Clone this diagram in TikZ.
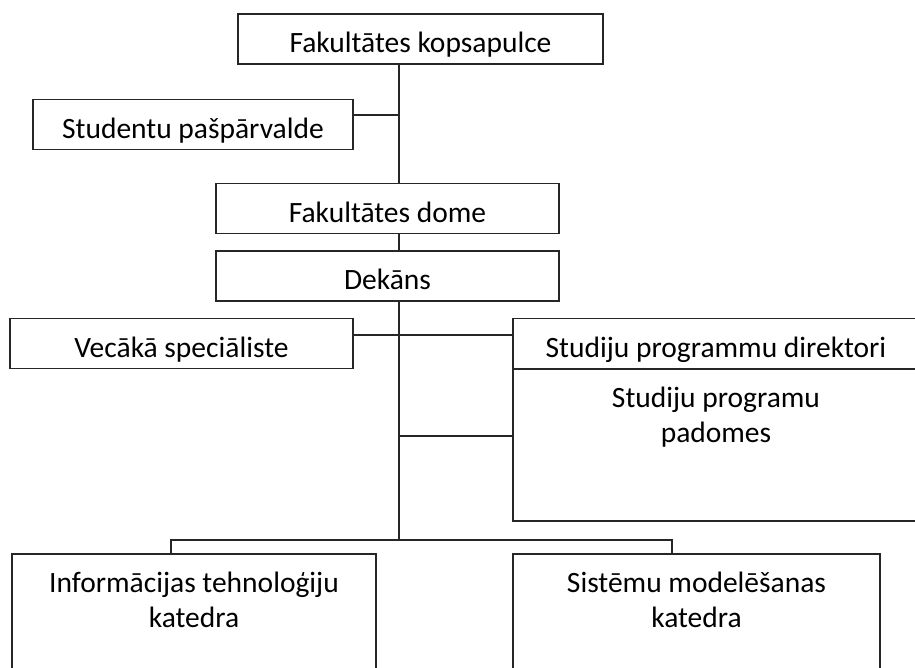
\documentclass[tikz,border=0pt]{standalone}
\usepackage{fontspec}
\setmainfont{Carlito}
\usepackage{tikz}

\tikzset{
  box/.style={draw=black!85, line width=1.3pt, inner sep=0pt, align=flush center,
    font=\fontsize{29.5}{35}\selectfont, text height=39pt, text depth=11pt},
  wire/.style={draw=black!85, line width=1.3pt}
}

\begin{document}
\begin{tikzpicture}[x=1pt,y=-1pt]
        \useasboundingbox (0,0) rectangle (915,668);
        \clip (0,0) rectangle (915,668);
        \node[box,minimum width=365pt] (kopsapulce) at (420.5,39) {Fakultātes kopsapulce};
        \node[box,minimum width=320pt] (studenti) at (193,124.5) {Studentu pašpārvalde};
        \node[box,minimum width=343pt] (dome) at (387.5,208.5) {Fakultātes dome};
        \node[box,minimum width=343pt] (dekans) at (387.5,276) {Dekāns};
        \node[box,minimum width=343pt] (vecaka) at (181.5,343.5) {Vecākā speciāliste};
        \node[box,minimum width=406pt] (direktori) at (716,343.5) {Studiju programmu direktori};
        \node[box,text width=406pt,text height=38pt,text depth=114pt] (padomes) at (716,445) {Studiju programu\\padomes};
        \node[box,text width=364pt,text height=38pt,text depth=102pt] (katedraIT) at (194,624) {Informācijas tehnoloģiju\\katedra};
        \node[box,text width=367pt,text height=38pt,text depth=102pt] (katedraSM) at (696.5,624) {Sistēmu modelēšanas\\katedra};
        \coordinate (spine) at (399,0);
        \coordinate (barL) at (171,540);
        \coordinate (barR) at (672,540);
        \draw[wire] (kopsapulce.south -| spine) -- (dome.north -| spine);
        \draw[wire] ([yshift=9.5pt]studenti.east) -- ([yshift=9.5pt]studenti.east -| spine);
        \draw[wire] (dome.south -| spine) -- (dekans.north -| spine);
        \draw[wire] (dekans.south -| spine) -- (spine |- barL);
        \draw[wire] ([yshift=8.5pt]vecaka.east) -- ([yshift=8.5pt]direktori.west);
        \draw[wire] ([yshift=9pt]padomes.west -| spine) -- ([yshift=9pt]padomes.west);
        \draw[wire] (katedraIT.north -| barL) -- (barL) -- (barR) -- (katedraSM.north -| barR);
\end{tikzpicture}
\end{document}
